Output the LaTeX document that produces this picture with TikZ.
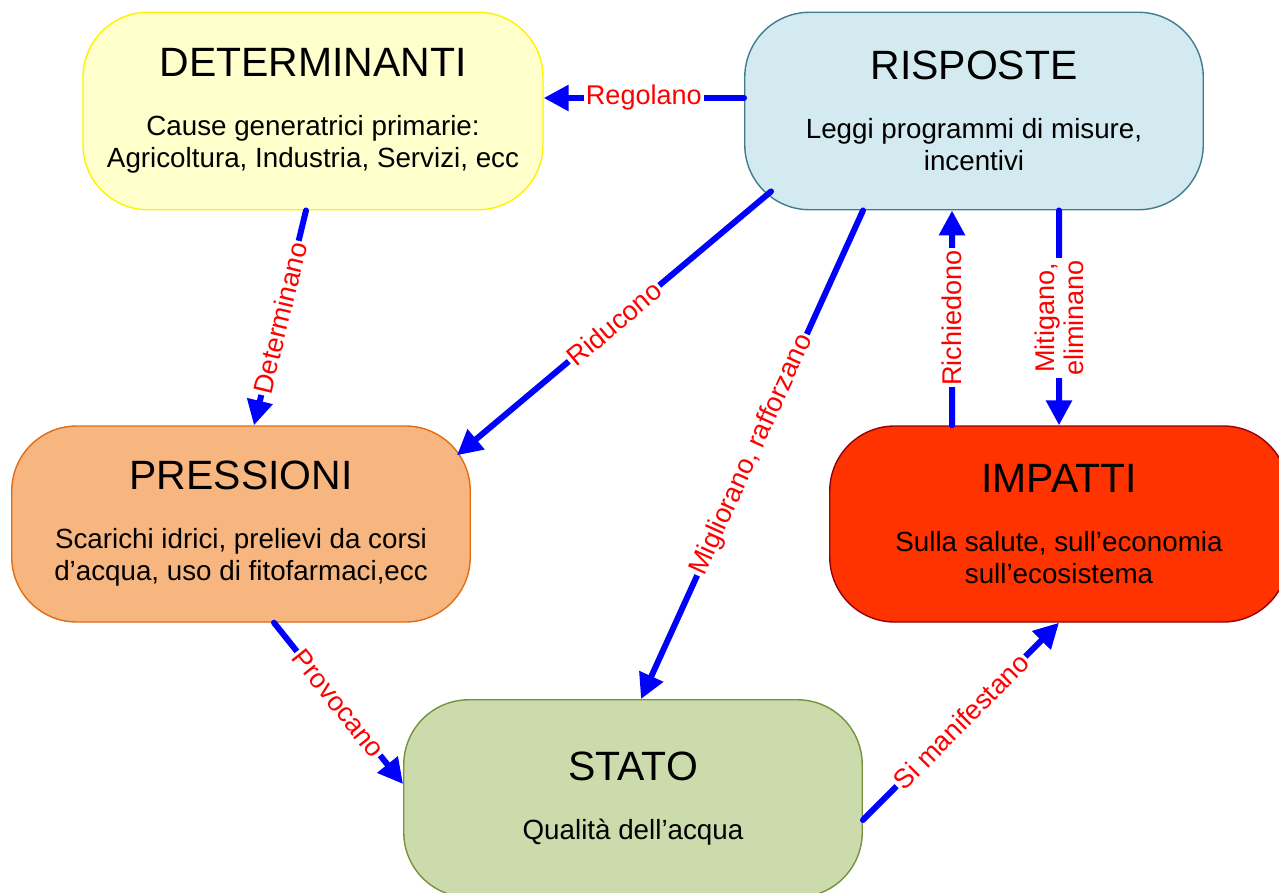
\documentclass[tikz,border=0pt]{standalone}
\usepackage{fontspec}
\setmainfont{Liberation Sans}
\usetikzlibrary{calc,arrows.meta}

\definecolor{detfill}{RGB}{255,255,204}
\definecolor{detline}{RGB}{255,242,0}
\definecolor{risfill}{RGB}{210,234,240}
\definecolor{risline}{RGB}{64,124,140}
\definecolor{prefill}{RGB}{247,182,128}
\definecolor{preline}{RGB}{226,108,20}
\definecolor{impfill}{RGB}{255,51,0}
\definecolor{impline}{RGB}{150,0,10}
\definecolor{stafill}{RGB}{203,219,172}
\definecolor{staline}{RGB}{118,146,60}

\newcommand{\boxhead}[1]{{\fontsize{23.3}{28}\selectfont #1}\\[15.4pt]}

\tikzset{
  dpsir/.style={draw, rectangle, rounded corners=13mm, minimum width=91.7mm,
    minimum height=39.5mm, line width=0.8pt, align=center,
    font=\fontsize{15.8}{18.2}\selectfont},
  flow/.style={-{Triangle[length=5mm,width=5mm]}, line width=3.4pt, blue, line cap=round},
  verb/.style={midway, sloped, fill=white, text=red, inner sep=1pt, align=center,
    font=\fontsize{15.4}{16.5}\selectfont}
}

\begin{document}
\begin{tikzpicture}
\useasboundingbox (0,0) rectangle (25.58,-17.84);

% the five boxes
\node [dpsir, fill=detfill, draw=detline, minimum width=92mm] (det) at (6.26,-2.22)
  {\boxhead{DETERMINANTI}Cause generatrici primarie:\\Agricoltura, Industria, Servizi, ecc};
\node [dpsir, fill=risfill, draw=risline] (ris) at (19.48,-2.22)
  {\boxhead{RISPOSTE}Leggi programmi di misure,\\incentivi};
\node [dpsir, fill=prefill, draw=preline, minimum height=39.2mm] (pre) at (4.82,-10.48)
  {\boxhead{PRESSIONI}Scarichi idrici, prelievi da corsi\\d’acqua, uso di fitofarmaci,ecc};
\node [dpsir, fill=impfill, draw=impline, minimum height=39.2mm] (imp) at (21.18,-10.48)
  {\boxhead{IMPATTI}Sulla salute, sull’economia\\sull’ecosistema};
\node [dpsir, fill=stafill, draw=staline] (sta) at (12.66,-15.97)
  {\boxhead{STATO}Qualità dell’acqua};

% links
\draw[flow] ($ (ris.west)+(0,2.6mm)$) -- ($ (det.east)+(0,2.6mm)$) node[verb]{Regolano};
\draw[flow] ($ (det.south)+(-1.4mm,0)$) -- ($ (pre.north)+(2.6mm,0)$) node[verb]{Determinano};
\draw[flow] ($ (ris.south west)+(5.4mm,3.8mm)$) -- ($ (pre.north east)+(-2.8mm,-6mm)$) node[verb]{Riducono};
\draw[flow] ($ (ris.south)+(-22.2mm,0)$) -- ($ (sta.north)+(1.6mm,0)$) node[verb]{Migliorano, rafforzano};
\draw[flow] ($ (imp.north)+(-21.4mm,0)$) -- ($ (ris.south)+(-4.4mm,0)$) node[verb]{Richiedono};
\draw[flow] ($ (ris.south)+(17mm,0)$) -- (imp.north) node[verb]{Mitigano,\\eliminano};
\draw[flow] ($ (pre.south)+(6.6mm,0)$) -- ($ (sta.west)+(0,2.9mm)$) node[verb]{Provocano};
\draw[flow] ($ (sta.east)+(0,-4.3mm)$) -- (imp.south) node[verb]{Si manifestano};

\end{tikzpicture}
\end{document}
